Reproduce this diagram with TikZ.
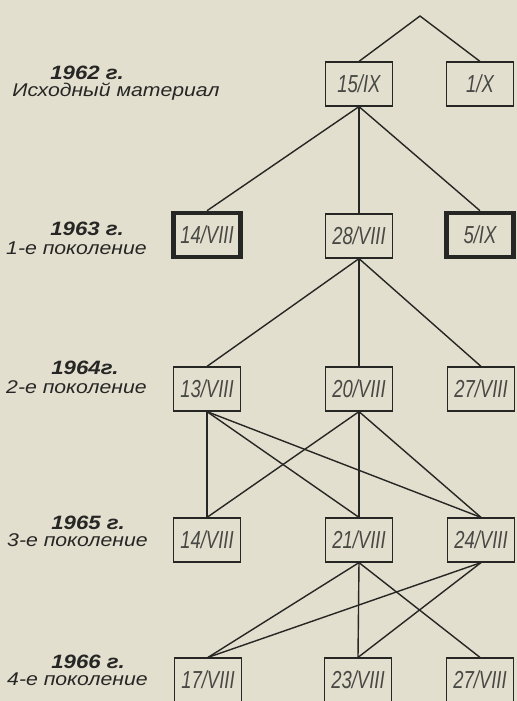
\documentclass[tikz,border=0pt]{standalone}
\usepackage{fontspec}
\setmainfont{Liberation Sans}
\newfontfamily\boxfont[FakeStretch=0.75]{Liberation Sans}
\newfontfamily\labelfont[FakeStretch=1.15]{Liberation Sans}
\definecolor{paper}{RGB}{227,223,207}
\definecolor{ink}{RGB}{38,38,36}
\definecolor{inkgray}{RGB}{72,72,68}
\usetikzlibrary{positioning}

\begin{document}
\begin{tikzpicture}[x=0.02cm, y=-0.02cm,
  gen/.style={draw=ink, line width=0.7pt, fill=paper, minimum width=1.34cm, minimum height=0.88cm, inner sep=0pt, font=\boxfont\itshape\fontsize{14}{14}\selectfont, text=inkgray},
  sel/.style={gen, line width=2.6pt},
  link/.style={ink, line width=0.8pt},
  year/.style={anchor=west, inner sep=0pt, font=\labelfont\bfseries\itshape\fontsize{11}{11}\selectfont, text=ink},
  sub/.style={anchor=east, inner sep=0pt, font=\labelfont\itshape\fontsize{10.5}{10.5}\selectfont, text=ink}]
  \useasboundingbox (0,0) rectangle (517,701);
  \fill[paper] (0,0) rectangle (517,701);
  \clip (0,0) rectangle (517,701);

  % Generation labels
  \node[year] (t62) at (50,73) {1962 г.};
  \node[sub, anchor=west] (s62) at (12,92) {Исходный материал};
  \node[year] (t63) at (50,229) {1963 г.};
  \node[sub] (s63) at (147,248) {1-е поколение};
  \node[year] (t64) at (51,368) {1964г.};
  \node[sub] (s64) at (147,387) {2-е поколение};
  \node[year] (t65) at (51,523) {1965 г.};
  \node[sub] (s65) at (148,540) {3-е поколение};
  \node[year] (t66) at (51,662) {1966 г.};
  \node[sub] (s66) at (148,679) {4-е поколение};

  % Starting material
  \coordinate (root) at (420,16);
  \node[gen] (a15) at (359,84) {15/IX};
  \node[gen] (a1) at (480,84) {1/X};

  % 1st generation
  \node[sel] (b14) at (207,235) {14/VIII};
  \node[gen] (b28) at (359,236) {28/VIII};
  \node[sel] (b5) at (480,235) {5/IX};

  % 2nd generation
  \node[gen] (c13) at (207,389) {13/VIII};
  \node[gen] (c20) at (359,389) {20/VIII};
  \node[gen] (c27) at (481,389) {27/VIII};

  % 3rd generation
  \node[gen] (d14) at (207,540) {14/VIII};
  \node[gen] (d21) at (359,540) {21/VIII};
  \node[gen] (d24) at (481,540) {24/VIII};

  % 4th generation
  \node[gen] (e17) at (208,680) {17/VIII};
  \node[gen] (e23) at (358,680) {23/VIII};
  \node[gen] (e27) at (480,680) {27/VIII};

  % Lines of descent
  \draw[link] (a15.north) -- (root) -- (a1.north);
  \draw[link] (a15.south) -- (b14.north);
  \draw[link] (a15.south) -- (b28.north);
  \draw[link] (a15.south) -- (b5.north);
  \draw[link] (b28.south) -- (c13.north);
  \draw[link] (b28.south) -- (c20.north);
  \draw[link] (b28.south) -- (c27.north);
  \draw[link] (c13.south) -- (d14.north);
  \draw[link] (c13.south) -- (d21.north);
  \draw[link] (c13.south) -- (d24.north);
  \draw[link] (c20.south) -- (d14.north);
  \draw[link] (c20.south) -- (d21.north);
  \draw[link] (c20.south) -- (d24.north);
  \draw[link] (d21.south) -- (e17.north);
  \draw[link] (d21.south) -- (e23.north);
  \draw[link] (d21.south) -- (e27.north);
  \draw[link] (d24.south) -- (e17.north);
  \draw[link] (d24.south) -- (e23.north);
\end{tikzpicture}
\end{document}
